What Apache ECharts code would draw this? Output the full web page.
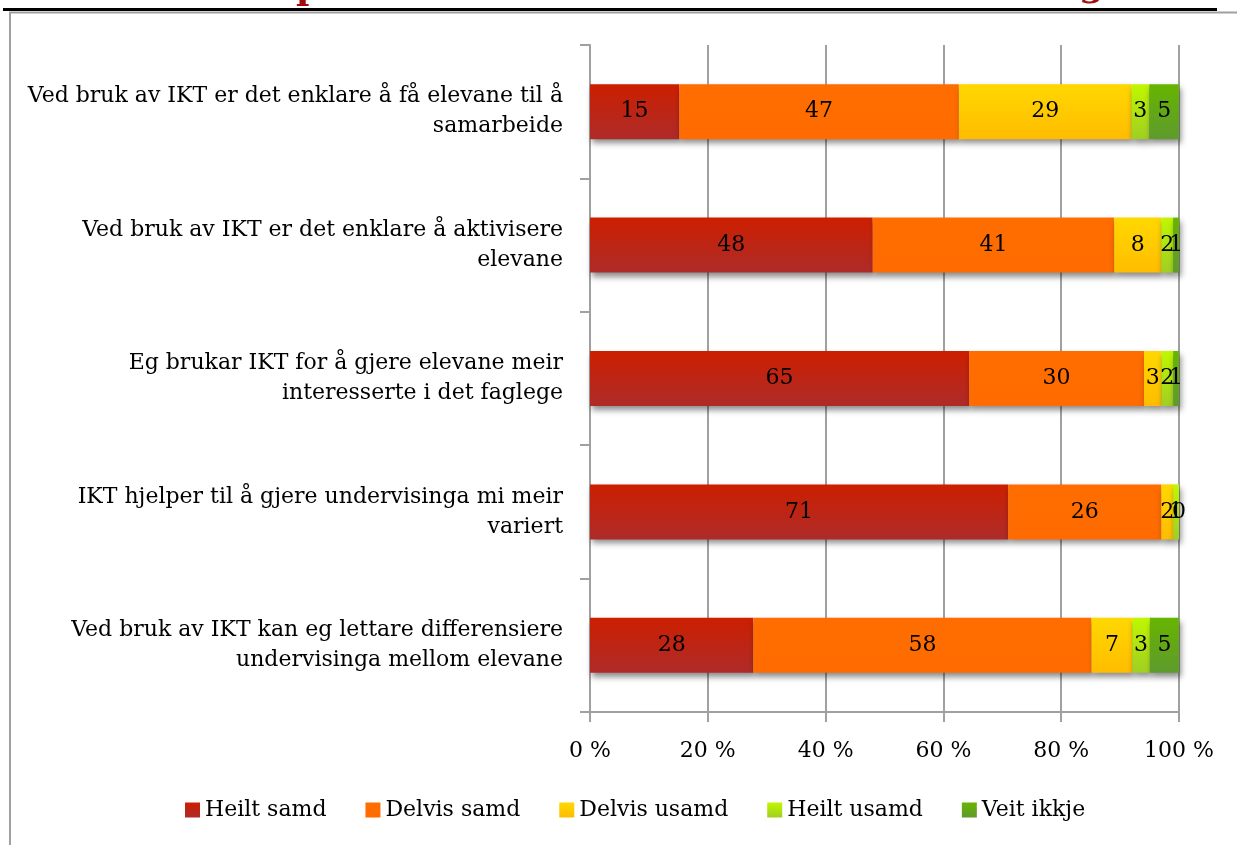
<!DOCTYPE html>
<html>
<head>
<meta charset="utf-8">
<script src="https://cdn.jsdelivr.net/npm/echarts@6/dist/echarts.min.js"></script>
<style>
  html, body { margin: 0; padding: 0; background: #fff; }
  #chart { width: 1237px; height: 845px; }
</style>
</head>
<body>
<div id="chart"></div>
<script>
// spørsmål, ovanfrå og ned
var categories = [
  'Ved bruk av IKT er det enklare å få elevane til å\nsamarbeide',
  'Ved bruk av IKT er det enklare å aktivisere\nelevane',
  'Eg brukar IKT for å gjere elevane meir\ninteresserte i det faglege',
  'IKT hjelper til å gjere undervisinga mi meir\nvariert',
  'Ved bruk av IKT kan eg lettare differensiere\nundervisinga mellom elevane'
];
var seriesNames = ['Heilt samd', 'Delvis samd', 'Delvis usamd', 'Heilt usamd', 'Veit ikkje'];

// verdiar (prosent) per svaralternativ
var heiltSamd   = [15, 48, 65, 71, 28];
var delvisSamd  = [47, 41, 30, 26, 58];
var delvisUsamd = [29, 8, 3, 2, 7];
var heiltUsamd  = [3, 2, 2, 1, 3];
var veitIkkje   = [5, 1, 1, 0, 5];

var xTicks = [0, 20, 40, 60, 80, 100];

var allValues = [heiltSamd, delvisSamd, delvisUsamd, heiltUsamd, veitIkkje];

// farge-gradientar (topp -> botn)
var colorPairs = [
  ['#cc1f00', '#ae2b29'],
  ['#ff6d00', '#ff6b00'],
  ['#ffd800', '#ffbc00'],
  ['#c0f700', '#a0cf22'],
  ['#67b500', '#5e9a2d']
];

var fontFamily = '"DejaVu Serif", "Liberation Serif", serif';
var fontSize = 22;

// 100 % stabla: normaliser kvar rad
var rowSums = categories.map(function (c, i) {
  var s = 0;
  allValues.forEach(function (arr) { s += arr[i]; });
  return s;
});

var chart = echarts.init(document.getElementById('chart'));

var series = seriesNames.map(function (name, k) {
  var grad = new echarts.graphic.LinearGradient(0, 0, 0, 1, [
    { offset: 0, color: colorPairs[k][0] },
    { offset: 1, color: colorPairs[k][1] }
  ]);
  return {
    name: name,
    type: 'bar',
    stack: 'total',
    barWidth: 55,
    color: grad,
    itemStyle: {
      color: grad,
      shadowColor: 'rgba(0,0,0,0.45)',
      shadowBlur: 6,
      shadowOffsetX: 2,
      shadowOffsetY: 4
    },
    label: {
      show: true,
      position: 'inside',
      color: '#000',
      fontFamily: fontFamily,
      fontSize: fontSize,
      formatter: function (p) { return allValues[k][p.dataIndex]; }
    },
    data: allValues[k].map(function (v, i) { return v / rowSums[i] * 100; })
  };
});

var option = {
  animation: false,
  backgroundColor: '#fff',
  grid: { left: 590, right: 58, top: 45, bottom: 133 },
  xAxis: {
    type: 'value',
    min: xTicks[0],
    max: xTicks[xTicks.length - 1],
    interval: 20,
    axisLine: { show: true, lineStyle: { color: '#a0a0a0', width: 2 } },
    axisTick: { show: true, length: 10, lineStyle: { color: '#a0a0a0', width: 2 } },
    splitLine: { show: true, lineStyle: { color: '#a0a0a0', width: 2 } },
    axisLabel: {
      color: '#000',
      fontFamily: fontFamily,
      fontSize: fontSize,
      margin: 28,
      formatter: '{value} %'
    }
  },
  yAxis: {
    type: 'category',
    inverse: true,
    data: categories,
    axisLine: { show: true, lineStyle: { color: '#a0a0a0', width: 2 } },
    axisTick: { show: true, length: 10, lineStyle: { color: '#a0a0a0', width: 2 } },
    axisLabel: {
      color: '#000',
      fontFamily: fontFamily,
      fontSize: fontSize,
      lineHeight: 30,
      margin: 27,
      padding: [10, 0, 0, 0],
      align: 'right'
    }
  },
  legend: {
    top: 794,
    left: 180,
    icon: 'rect',
    itemWidth: 15,
    itemHeight: 15,
    itemGap: 39,
    textStyle: { color: '#000', fontFamily: fontFamily, fontSize: fontSize },
    data: seriesNames
  },
  graphic: [
    // avkutta tittel
    { type: 'text', left: 296, top: -28, z: 5,
      style: { text: 'p', fill: '#a30d0d', font: 'bold 36px ' + fontFamily } },
    { type: 'text', left: 1079, top: -31, z: 5,
      style: { text: 'g', fill: '#a30d0d', font: 'bold 36px ' + fontFamily } },
    { type: 'line', z: 10, shape: { x1: 3, y1: 9.5, x2: 1217, y2: 9.5 },
      style: { stroke: '#000', lineWidth: 3 } },
    { type: 'line', z: 10, shape: { x1: 9, y1: 12.5, x2: 1237, y2: 12.5 },
      style: { stroke: '#a0a0a0', lineWidth: 2 } },
    { type: 'line', z: 10, shape: { x1: 10, y1: 12, x2: 10, y2: 845 },
      style: { stroke: '#a0a0a0', lineWidth: 2 } }
  ],
  series: series
};

chart.setOption(option);
</script>
</body>
</html>
